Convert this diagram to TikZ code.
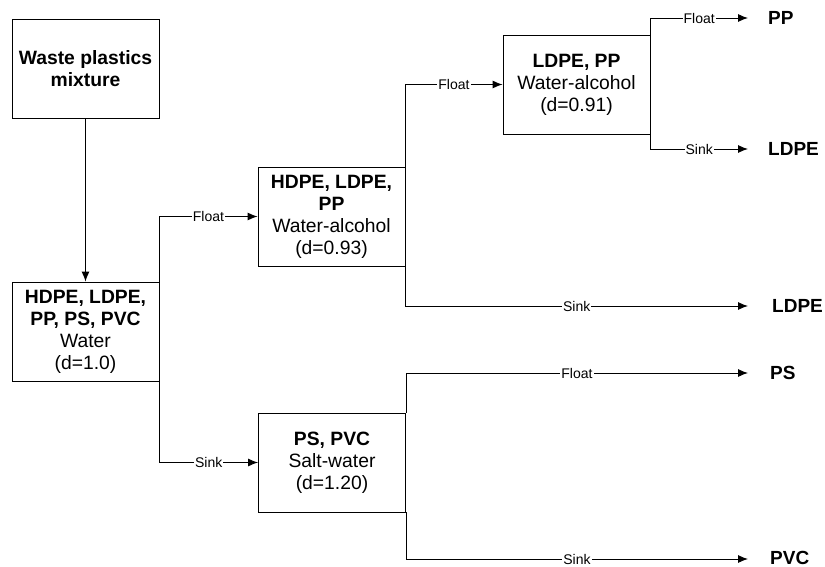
\documentclass[tikz,border=0pt]{standalone}
\usepackage{fontspec}
\setmainfont{Liberation Sans}
\usetikzlibrary{arrows.meta}
\begin{document}
\begin{tikzpicture}[x=1pt,y=-1pt,
  box/.style={draw, line width=0.9pt, minimum width=147pt, minimum height=99pt, align=center, inner sep=0pt,
    font=\fontsize{19.3}{22}\selectfont},
  lab/.style={fill=white, inner sep=1pt, font=\fontsize{14}{15}\selectfont},
  conn/.style={line width=0.9pt, -{Latex[length=10pt,width=8pt]}},
  endlab/.style={anchor=west, inner sep=0pt, font=\fontsize{19}{22}\selectfont\bfseries}]
\useasboundingbox (0,0) rectangle (825,567);
\node[box] (b1) at (85.5,68.5) {\textbf{Waste plastics}\\\textbf{mixture}};
\node[box] (b2) at (85.5,331.5) {\textbf{HDPE, LDPE,}\\\textbf{PP, PS, PVC}\\Water\\(d=1.0)};
\node[box] (b3) at (331.5,216.5) {\textbf{HDPE, LDPE,}\\\textbf{PP}\\Water-alcohol\\(d=0.93)};
\node[box] (b4) at (332,462.5) {\textbf{PS, PVC}\\Salt-water\\(d=1.20)};
\node[box] (b5) at (576.5,84.5) {\textbf{LDPE, PP}\\Water-alcohol\\(d=0.91)};
\coordinate (t1) at (748,18);
\coordinate (t2) at (748,149);
\coordinate (t3) at (748,306);
\coordinate (t4) at (748,373);
\coordinate (t5) at (748,559);
\node[endlab] (e1) at (768,18) {PP};
\node[endlab] (e2) at (768,149) {LDPE};
\node[endlab] (e3) at (772,306) {LDPE};
\node[endlab] (e4) at (770,373) {PS};
\node[endlab] (e5) at (770,558) {PVC};
\draw[conn] (b1.south) -- (b2.north);
\draw[conn] (b2.north east) |- node[lab,pos=0.75] {Float} (b3.west);
\draw[conn] (b2.south east) |- node[lab,pos=0.75] {Sink} (b4.west);
\draw[conn] (b3.north east) |- node[lab,pos=0.75] {Float} (b5.west);
\draw[conn] (b3.south east) |- node[lab,pos=0.75] {Sink} (t3);
\draw[conn] (b5.north east) |- node[lab,pos=0.75] {Float} (t1);
\draw[conn] (b5.south east) |- node[lab,pos=0.75] {Sink} (t2);
\draw[conn] (b4.north east) |- node[lab,pos=0.75] {Float} (t4);
\draw[conn] (b4.south east) |- node[lab,pos=0.75] {Sink} (t5);
\end{tikzpicture}
\end{document}
